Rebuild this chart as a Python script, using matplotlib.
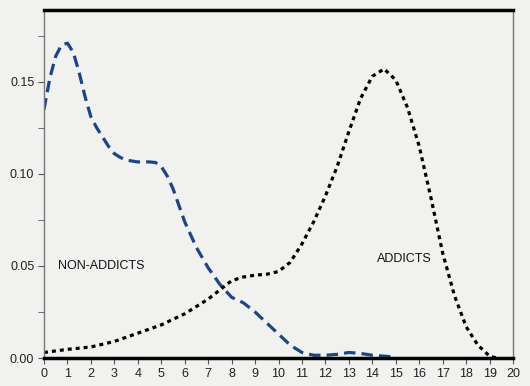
import matplotlib
matplotlib.use('Agg')
import matplotlib.pyplot as plt
from matplotlib.ticker import MultipleLocator

# ── data ─────────────────────────────────────────────────────────────────────
non_x = [0, 0.25, 0.5, 0.75, 1, 1.25, 1.5, 1.75, 2, 2.25, 2.5, 2.75, 3, 3.25,
         3.5, 4, 4.5, 4.75, 5, 5.25, 5.5, 6, 6.5, 7, 7.5, 8, 8.5, 9, 9.5, 10,
         10.5, 11, 11.5, 12, 12.5, 13, 13.5, 14, 14.5, 15]
non_y = [0.135, 0.152, 0.164, 0.170, 0.171, 0.166, 0.155, 0.142, 0.131, 0.125,
         0.120, 0.115, 0.111, 0.109, 0.1075, 0.1065, 0.1065, 0.1062, 0.104,
         0.099, 0.092, 0.074, 0.060, 0.049, 0.040, 0.033, 0.030, 0.025, 0.019,
         0.013, 0.007, 0.003, 0.0015, 0.0015, 0.002, 0.003, 0.0025, 0.0015,
         0.001, 0.0005]

add_x = [0, 1, 2, 3, 4, 5, 6, 7, 7.5, 8, 8.5, 9, 9.5, 10, 10.5, 11, 11.5, 12,
         12.5, 13, 13.5, 14, 14.5, 15, 15.5, 16, 16.5, 17, 17.5, 18, 18.5, 19,
         19.3]
add_y = [0.003, 0.0047, 0.006, 0.009, 0.0135, 0.018, 0.024, 0.032, 0.037,
         0.042, 0.044, 0.045, 0.0455, 0.047, 0.052, 0.062, 0.074, 0.088,
         0.104, 0.123, 0.141, 0.153, 0.157, 0.151, 0.136, 0.115, 0.087,
         0.057, 0.034, 0.017, 0.007, 0.001, 0.0]

x_ticks = list(range(0, 21))
y_ticks = [0.00, 0.05, 0.10, 0.15]

bg = '#f1f1ef'
plt.rcParams['font.family'] = ['Liberation Sans', 'DejaVu Sans']

fig = plt.figure(figsize=(5.3, 3.86), dpi=100, facecolor=bg)
ax = fig.add_axes([0.083, 0.0725, 0.885, 0.9015], facecolor=bg)

ax.plot(non_x, non_y, color='#1c4584', lw=2.3, dashes=(3.6, 1.9),
        dash_capstyle='butt')
ax.plot(add_x, add_y, color='black', lw=2.3, dashes=(1.25, 1.25),
        dash_capstyle='butt')

ax.text(0.6, 0.05, 'NON-ADDICTS', fontsize=9, va='center', ha='left',
        color='#111111')
ax.text(14.2, 0.054, 'ADDICTS', fontsize=9, va='center', ha='left',
        color='#111111')

ax.set_xlim(0, 20)
ax.set_ylim(0, 0.189)
ax.set_xticks(x_ticks)
ax.set_yticks(y_ticks)
ax.set_yticklabels([f'{v:.2f}' for v in y_ticks])
ax.yaxis.set_minor_locator(MultipleLocator(0.025))
ax.tick_params(axis='both', labelsize=9, color='#555555', labelcolor='#222222',
               length=4, width=0.8, pad=3)
ax.tick_params(axis='y', which='minor', length=4, color='#555555')

for side in ('left', 'right'):
    ax.spines[side].set_color('#777777')
    ax.spines[side].set_linewidth(1.0)
for side in ('top', 'bottom'):
    ax.spines[side].set_color('black')
    ax.spines[side].set_linewidth(2.5)

fig.savefig('out.png', dpi=100, facecolor=bg)
